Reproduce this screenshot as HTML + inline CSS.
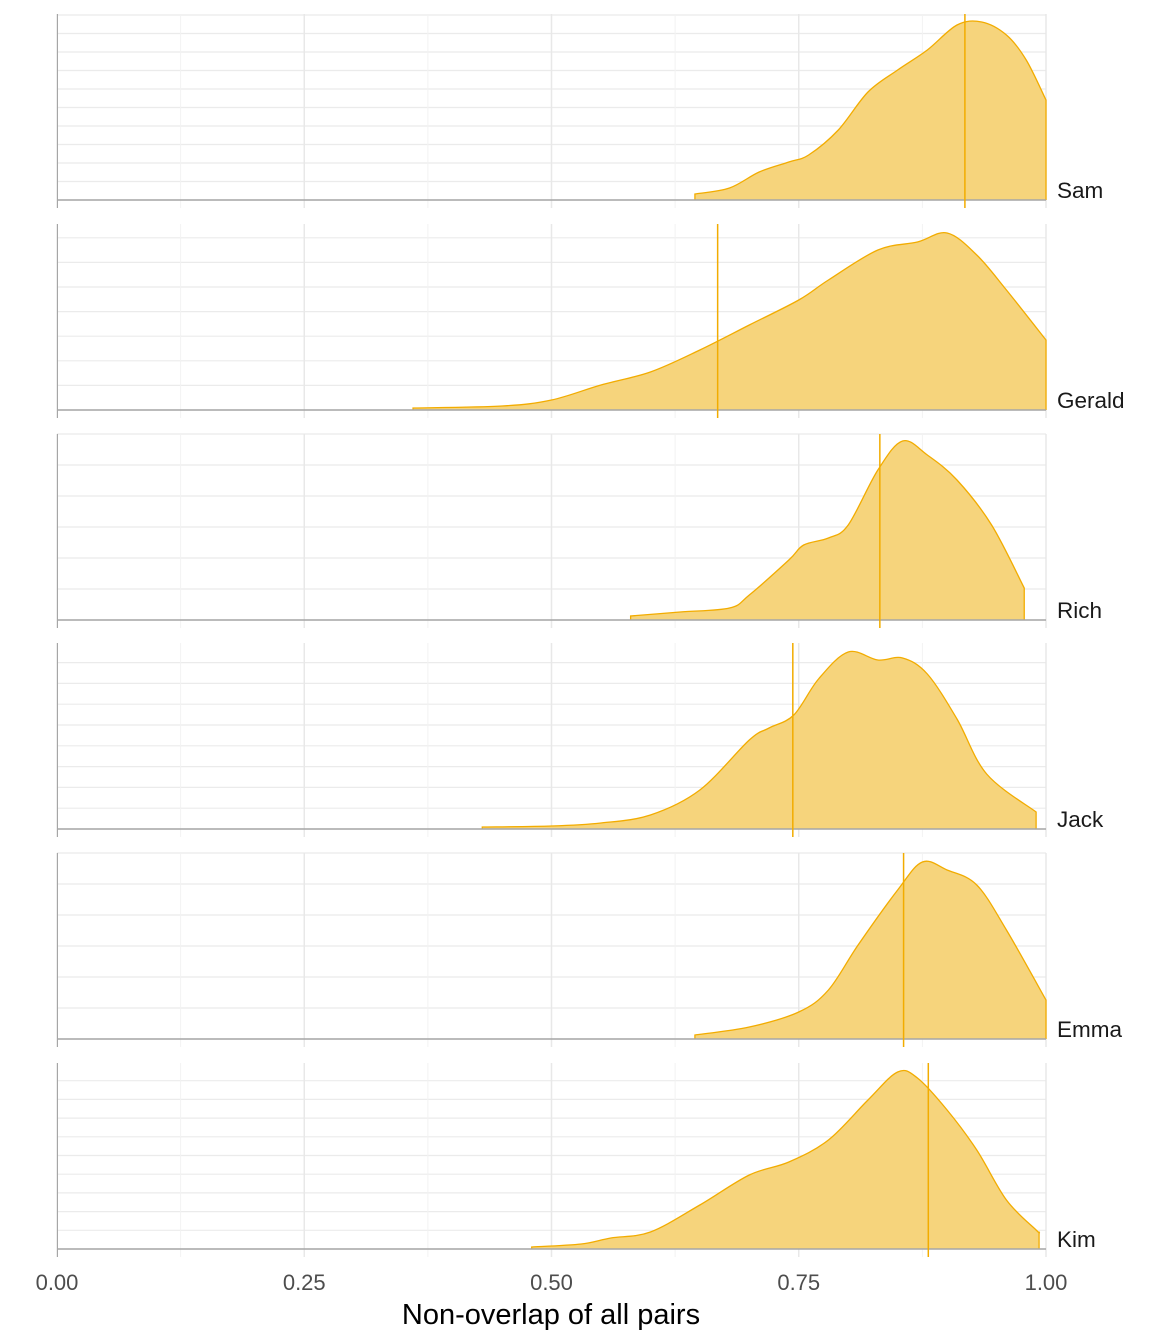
<!DOCTYPE html>
<html><head><meta charset="utf-8"><style>body{margin:0;background:#fff}svg{display:block;font-family:"Liberation Sans",sans-serif}</style></head>
<body>
<svg id="c" width="1152" height="1344"></svg>
<script>
const names=["Sam","Gerald","Rich","Jack","Emma","Kim"];
const xs0=[0.645,0.68,0.71,0.74,0.76,0.79,0.82,0.85,0.88,0.91,0.935,0.96,0.98,1.0];
const hs0=[6,12,28,38,45,70,108,130,150,175,178,165,140,100];
const xs1=[0.36,0.45,0.5,0.55,0.6,0.65,0.7,0.75,0.78,0.83,0.87,0.9,0.93,0.96,1.0];
const hs1=[2,4,10,25,38,60,85,110,130,160,168,177,155,120,70];
const xs2=[0.58,0.63,0.68,0.7,0.74,0.755,0.78,0.8,0.83,0.855,0.88,0.91,0.945,0.978];
const hs2=[4,8,12,25,60,75,82,95,150,179,165,140,95,32];
const xs3=[0.43,0.5,0.55,0.6,0.65,0.7,0.72,0.745,0.77,0.8,0.83,0.855,0.88,0.91,0.94,0.99];
const hs3=[2,3,6,14,39,89,101,114,150,177,169,171,155,110,55,17];
const xs4=[0.645,0.7,0.75,0.78,0.81,0.85,0.875,0.9,0.93,0.96,1.0];
const hs4=[4,12,27,49,94,149,177,169,154,109,39];
const xs5=[0.48,0.53,0.56,0.6,0.65,0.7,0.74,0.78,0.82,0.85,0.87,0.9,0.93,0.96,0.99,0.993];
const hs5=[2,5,11,17,44,74,87,109,149,177,171,139,99,49,19,17];
const medians=[0.918,0.668,0.832,0.744,0.856,0.881];
const gridSteps=[18.5,24.6,31,20.8,31,18.7];
const ticks=["0.00","0.25","0.50","0.75","1.00"];
const XS=[xs0,xs1,xs2,xs3,xs4,xs5],HS=[hs0,hs1,hs2,hs3,hs4,hs5];
const NS="http://www.w3.org/2000/svg",svg=document.getElementById('c');
const X=v=>57+v*989;
function mk(t,a,p){const e=document.createElementNS(NS,t);for(const k in a)e.setAttribute(k,a[k]);(p||svg).appendChild(e);return e;}
const bases=[200,410,620,829,1039,1249],H=186;
function spline(pts){let d=`M${pts[0][0]},${pts[0][1]}`;for(let i=0;i<pts.length-1;i++){const p0=pts[Math.max(0,i-1)],p1=pts[i],p2=pts[i+1],p3=pts[Math.min(pts.length-1,i+2)];const c1=[p1[0]+(p2[0]-p0[0])/6,p1[1]+(p2[1]-p0[1])/6],c2=[p2[0]-(p3[0]-p1[0])/6,p2[1]-(p3[1]-p1[1])/6];d+=` C${c1[0]},${c1[1]} ${c2[0]},${c2[1]} ${p2[0]},${p2[1]}`;}return d;}
names.forEach((n,i)=>{
 const b=bases[i],top=b-H;
 const g=mk('g',{});
 
 
 for(let y=b;y>=top-1;y-=gridSteps[i]) mk('line',{x1:57,x2:1046,y1:y,y2:y,stroke:'#ebebeb','stroke-width':1.2},g);
 for(let k=0;k<=8;k++) mk('line',{x1:X(k/8),x2:X(k/8),y1:top,y2:b+8,stroke:k%2?'#f2f2f2':'#e8e8e8','stroke-width':k%2?1:1.5},g);
 const pts=XS[i].map((x,j)=>[X(x),b-HS[i][j]]);
 const c=spline(pts);
 const last=pts[pts.length-1];
 const area=mk('path',{d:c+` L${last[0]},${b} L${pts[0][0]},${b} Z`,fill:'#f6d47c',stroke:'none'},g);
 
 
 mk('path',{d:`M${pts[0][0]},${b} L${pts[0][0]},${pts[0][1]} `+c.slice(c.indexOf('C')-1)+` L${last[0]},${b}`,fill:'none',stroke:'#f2ac00','stroke-width':1.3},g);
 mk('line',{x1:57,x2:1046,y1:b,y2:b,stroke:'#a6a6a6','stroke-width':1.5},g);
 mk('line',{x1:57.5,x2:57.5,y1:top,y2:b+8,stroke:'#a6a6a6','stroke-width':1},g);
 const m=mk('line',{x1:X(medians[i]),x2:X(medians[i]),y1:top,y2:b+8,stroke:'#f2ac00','stroke-width':1.5},g);
 
 
 const t=mk('text',{x:1057,y:b-2,'font-size':22.5,fill:'#1a1a1a'},g);t.textContent=n;
 
 
});
ticks.forEach((s,k)=>{const t=mk('text',{x:X(k/4),y:1290,'font-size':22,fill:'#4d4d4d','text-anchor':'middle'});t.textContent=s;
 
 });
const tt=mk('text',{x:551,y:1324,'font-size':29,fill:'#000','text-anchor':'middle'});tt.textContent="Non-overlap of all pairs";


</script>
</body></html>
